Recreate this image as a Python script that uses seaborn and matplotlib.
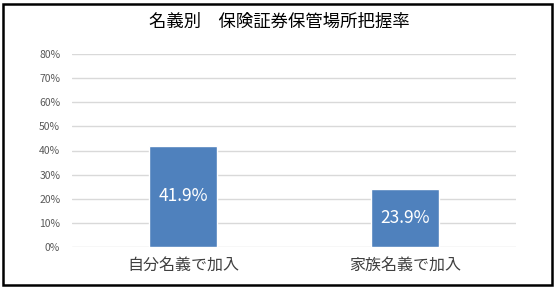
import matplotlib
matplotlib.use("Agg")
import matplotlib.pyplot as plt
import seaborn as sns
import pandas as pd
from matplotlib.patches import Rectangle
from matplotlib.ticker import FuncFormatter

categories = ["自分名義で加入", "家族名義で加入"]
values = [0.419, 0.239]
value_labels = ["41.9%", "23.9%"]
yticks = [0, 0.1, 0.2, 0.3, 0.4, 0.5, 0.6, 0.7, 0.8]
title = "名義別　保険証券保管場所把握率"

sns.set_theme(style="white")
plt.rcParams['font.family'] = ['Noto Sans CJK JP', 'DejaVu Sans']

df = pd.DataFrame({"category": categories, "value": values})

fig = plt.figure(figsize=(5.58, 2.91), dpi=100)
ax = fig.add_axes([72/558, 44/291, 444/558, 193/291])

sns.barplot(data=df, x="category", y="value", color="#4F81BD", width=0.31,
            saturation=1, ax=ax, zorder=3)

ax.set_ylim(0, 0.8)
ax.set_xlim(-0.5, 1.5)
ax.set_yticks(yticks)
ax.yaxis.set_major_formatter(FuncFormatter(lambda v, p: f"{v*100:.0f}%"))
ax.grid(axis="y", color="#D9D9D9", linewidth=1, zorder=0)
ax.grid(axis="x", visible=False)
for s in ax.spines.values():
    s.set_visible(False)
ax.tick_params(axis="y", labelsize=7.5, colors="#595959", length=0, pad=8.5)
ax.tick_params(axis="x", labelsize=11.5, colors="#404040", length=0, pad=7)
ax.set_xlabel("")
ax.set_ylabel("")

ax.bar_label(ax.containers[0], labels=value_labels, label_type="center",
             color="white", fontsize=12.5)

fig.text(0.5, 1 - 22/291, title, ha="center", va="center", fontsize=12.5, color="black")

fig.patches.append(Rectangle((3/558, 6/291), 549/558, 281/291, transform=fig.transFigure,
                             fill=False, edgecolor="black", linewidth=1.8))

fig.savefig("out.png", dpi=100)
